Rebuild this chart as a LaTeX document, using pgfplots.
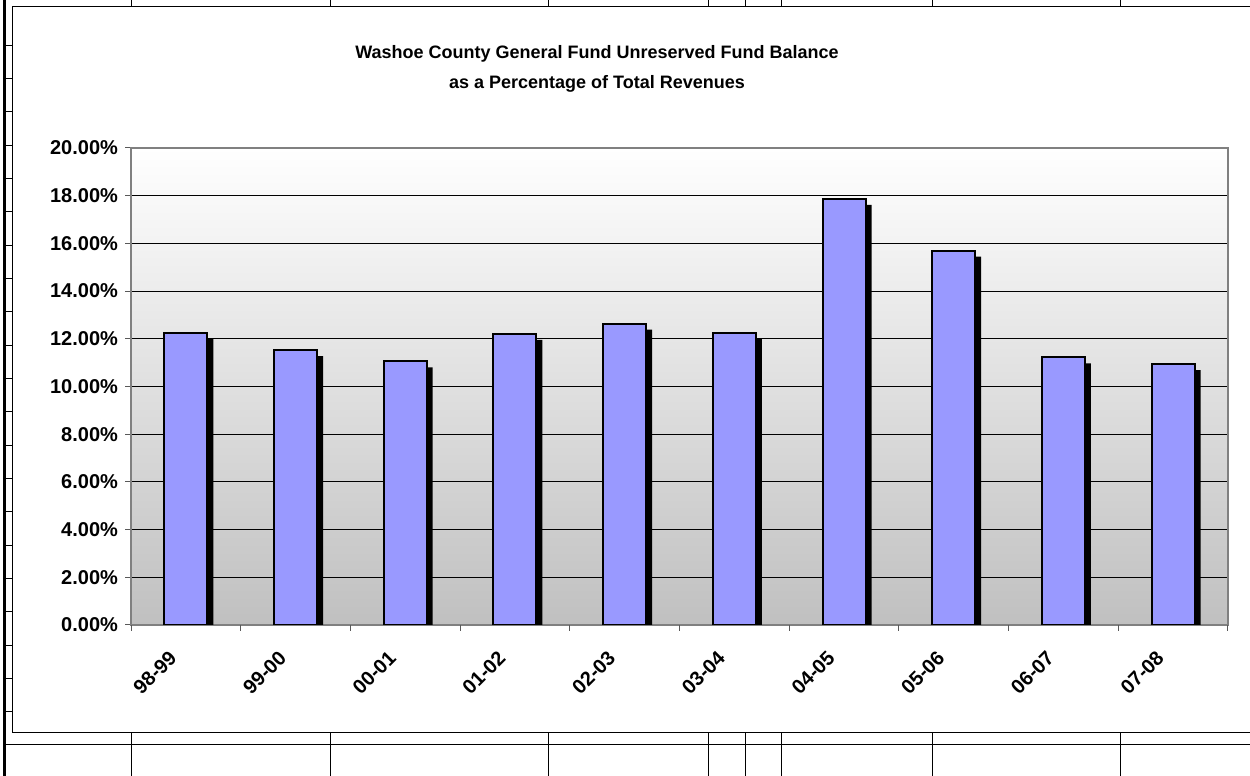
\documentclass[border=0pt]{standalone}
\usepackage{fontspec}
\setmainfont{Liberation Sans}
\usepackage{pgfplots}
\pgfplotsset{compat=1.18}
\definecolor{barcol}{HTML}{9999FF}
\definecolor{bggray}{HTML}{C0C0C0}

\begin{document}
\begin{tikzpicture}
% 1 px of the reference = 0.5pt
\useasboundingbox (0,0) rectangle (625pt,388pt);
\fill[white] (0,0) rectangle (625pt,388pt);

% spreadsheet cells behind the chart
\draw[line width=1.5pt] (2pt,0) -- (2pt,388pt);
\foreach \k in {1,...,21} {
  \draw[line width=0.5pt] (2pt,{388pt-(12+33.33*\k)*0.5pt}) -- (6pt,{388pt-(12+33.33*\k)*0.5pt});
}
\draw[line width=0.5pt] (2pt,15.5pt) -- (625pt,15.5pt);
\foreach \c in {131,330,548,708,745,781,932,1120} {
  \draw[line width=0.5pt] (\c*0.5pt,388pt) -- (\c*0.5pt,384.5pt);
  \draw[line width=0.5pt] (\c*0.5pt,21.5pt) -- (\c*0.5pt,0pt);
}
% chart frame
\fill[white] (6pt,21.5pt) rectangle (626pt,384.5pt);
\draw[line width=0.5pt] (626pt,384.5pt) -- (6pt,384.5pt) -- (6pt,21.5pt) -- (626pt,21.5pt);

\node[align=center, font=\bfseries\fontsize{9}{15}\selectfont] at (298.5pt,353.5pt)
  {Washoe County General Fund Unreserved Fund Balance\\as a Percentage of Total Revenues};

\begin{axis}[
  at={(65.5pt,75.5pt)}, anchor=south west,
  scale only axis, width=548.5pt, height=238.5pt,
  ybar, bar width=21.5pt,
  xmin=-0.5, xmax=9.5, ymin=0, ymax=20,
  xtick={0,...,9},
  xticklabels={98-99,99-00,00-01,01-02,02-03,03-04,04-05,05-06,06-07,07-08},
  x tick label style={rotate=45, anchor=north east, xshift=-9.4pt, yshift=3.3pt},
  extra x ticks={-0.5,0.5,1.5,2.5,3.5,4.5,5.5,6.5,7.5,8.5,9.5},
  extra x tick labels={},
  extra x tick style={grid=none, xtick style={draw=gray!70!black, line width=0.5pt}},
  ytick={0,2,...,20},
  yticklabel={\pgfmathprintnumber[fixed,fixed zerofill,precision=2]{\tick}\%},
  /pgf/number format/assume math mode=true,
  ticklabel style={font=\bfseries\fontsize{10}{12}\selectfont},
  xtick style={draw=none},
  ytick style={draw=gray!70!black, line width=0.5pt},
  major tick length=3pt,
  tick align=outside,
  tick pos=left,
  ymajorgrids,
  major grid style={draw=black, line width=0.5pt},
  axis line style={draw=gray, line width=1pt},
  axis background/.style={top color=white, bottom color=bggray},
]
\addplot[fill=black, draw=none, bar width=22.5pt, bar shift=2.5pt, yshift=-3pt] coordinates {
  (0,12.25) (1,11.52) (2,11.05) (3,12.21) (4,12.64) (5,12.26) (6,17.87) (7,15.70) (8,11.22) (9,10.94)};
\addplot[fill=barcol, draw=black, line width=1pt, bar shift=0pt] coordinates {
  (0,12.25) (1,11.52) (2,11.05) (3,12.21) (4,12.64) (5,12.26) (6,17.87) (7,15.70) (8,11.22) (9,10.94)};
\end{axis}
\end{tikzpicture}
\end{document}
